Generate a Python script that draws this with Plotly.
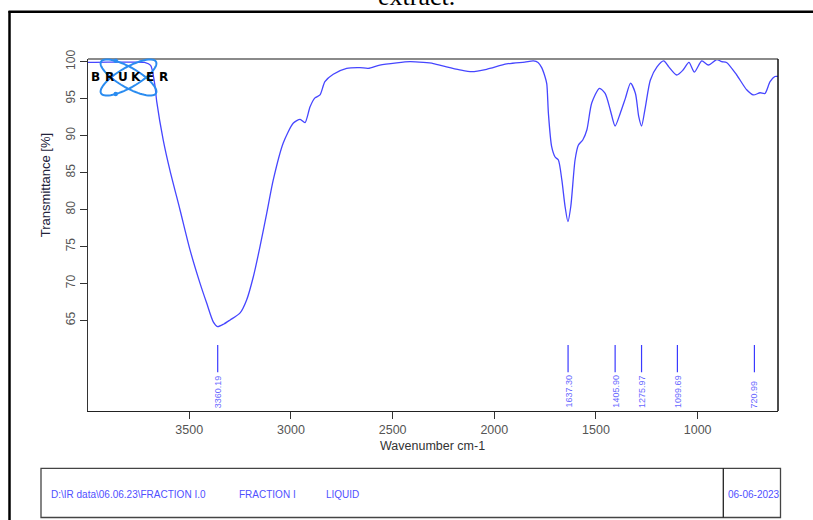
import numpy as np
import plotly.graph_objects as go

# ---------------- data ----------------
wavenumber = [3998, 3900, 3800, 3720, 3690, 3670, 3660, 3628, 3595, 3546, 3497, 3447,
              3414, 3382, 3361, 3330, 3299, 3250, 3218, 3185, 3152, 3119, 3087, 3038,
              2988, 2955, 2931, 2906, 2882, 2857, 2833, 2792, 2726, 2661, 2620, 2563,
              2480, 2415, 2349, 2300, 2235, 2170, 2111, 2038, 1939, 1850, 1808, 1785,
              1767, 1751, 1742, 1734, 1718, 1701, 1685, 1668, 1652, 1638, 1624, 1603,
              1587, 1565, 1545, 1521, 1483, 1455, 1430, 1406, 1381, 1356, 1330, 1306,
              1290, 1276, 1257, 1233, 1200, 1167, 1142, 1103, 1071, 1043, 1016, 980,
              947, 906, 882, 858, 808, 759, 726, 693, 669, 644, 620, 604]
transmittance = [99.9, 99.95, 99.95, 99.9, 99.5, 97.0, 94.6, 89.4, 85.3, 80.0, 74.6, 70.0,
                 67.3, 64.8, 64.15, 64.5, 65.05, 66.0, 67.75, 70.9, 75.0, 79.5, 84.0, 89.0,
                 91.7, 92.2, 91.75, 93.9, 95.1, 95.5, 97.3, 98.3, 99.1, 99.2, 99.1, 99.55,
                 99.85, 100.0, 99.9, 99.75, 99.3, 98.9, 98.65, 98.97, 99.7, 99.95, 100.1, 99.9,
                 99.2, 98.0, 97.0, 93.0, 88.5, 87.1, 86.7, 84.0, 80.4, 78.35, 80.4, 86.7,
                 88.7, 89.4, 90.75, 94.4, 96.4, 95.7, 93.5, 91.3, 93.0, 95.0, 97.1, 95.7,
                 92.6, 91.3, 93.9, 97.5, 99.3, 100.1, 99.3, 98.2, 98.9, 99.9, 98.6, 100.1,
                 99.55, 100.3, 100.0, 99.9, 98.2, 96.2, 95.5, 95.8, 95.7, 97.3, 98.0, 98.0]

peak_positions = [3360.19, 1637.30, 1405.90, 1275.97, 1099.69, 720.99]
peak_labels = ["3360.19", "1637.30", "1405.90", "1275.97", "1099.69", "720.99"]

x_ticks = [3500, 3000, 2500, 2000, 1500, 1000]
y_ticks = [65, 70, 75, 80, 85, 90, 95, 100]

info_texts = ["D:\\IR data\\06.06.23\\FRACTION I.0", "FRACTION I", "LIQUID"]
date_text = "06-06-2023"
title_text = "extract."

# ---------------- geometry helpers ----------------
W, H = 813, 520
ML, MR, MT, MB = 88, 35, 59, 109
PW, PH = W - ML - MR, H - MT - MB


def px(xp):
    return (xp - ML) / PW


def py(yp):
    return (H - MB - yp) / PH


LINE_BLUE = "#4646ff"
FONT = "Liberation Sans, Arial, sans-serif"

fig = go.Figure()

fig.add_trace(go.Scatter(
    x=wavenumber, y=transmittance, mode="lines",
    line=dict(color=LINE_BLUE, width=1.3, shape="spline", smoothing=0.7),
    hoverinfo="skip", showlegend=False))

# peak marker lines
pk_x, pk_y = [], []
for p in peak_positions:
    pk_x += [p, p, None]
    pk_y += [61.66, 57.97, None]
fig.add_trace(go.Scatter(x=pk_x, y=pk_y, mode="lines",
                         line=dict(color="#3a3aff", width=1.2),
                         hoverinfo="skip", showlegend=False))

annotations = []
for p, lab in zip(peak_positions, peak_labels):
    annotations.append(dict(x=p, y=53.0, xref="x", yref="y", text=lab,
                            textangle=-90, showarrow=False, xanchor="center",
                            yanchor="bottom", borderpad=0,
                            font=dict(family=FONT, size=9, color="#6a6aff")))

# axis titles
annotations.append(dict(x=px(432.5), y=py(446), xref="paper", yref="paper",
                        text="Wavenumber cm-1", showarrow=False,
                        xanchor="center", yanchor="middle",
                        font=dict(family=FONT, size=12.5, color="#333333")))
annotations.append(dict(x=px(45.7), y=py(185.5), xref="paper", yref="paper",
                        text="Transmittance [%]", showarrow=False, textangle=-90,
                        xanchor="center", yanchor="middle",
                        font=dict(family=FONT, size=13, color="#22223a")))

# title fragment (cut at top, as in the reference)
annotations.append(dict(x=px(416), y=py(12.5), xref="paper", yref="paper",
                        text=title_text, showarrow=False, xanchor="center",
                        yanchor="bottom",
                        font=dict(family="Liberation Serif, Times New Roman, serif",
                                  size=26, color="#000000")))

# info box text
info_x = [49, 236.7, 324]
for t, xx in zip(info_texts, info_x):
    annotations.append(dict(x=px(xx), y=py(494), xref="paper", yref="paper",
                            text=t, showarrow=False, xanchor="left", yanchor="middle",
                            font=dict(family=FONT, size=10, color="#5050ff")))
annotations.append(dict(x=px(754), y=py(494), xref="paper", yref="paper",
                        text=date_text, showarrow=False, xanchor="center",
                        yanchor="middle",
                        font=dict(family=FONT, size=10, color="#5050ff")))

# BRUKER logo letters
for i, ch in enumerate("BRUKER"):
    annotations.append(dict(x=px(95.5 + i * 13.6), y=py(77.3), xref="paper", yref="paper",
                            text="<b>" + ch + "</b>", showarrow=False,
                            xanchor="center", yanchor="middle",
                            font=dict(family="DejaVu Sans, sans-serif", size=12,
                                      color="#000000")))

shapes = []
# outer page frame (left and top)
shapes.append(dict(type="line", xref="paper", yref="paper",
                   x0=px(9.5), x1=px(9.5), y0=py(11), y1=py(521),
                   line=dict(color="black", width=2.5)))
shapes.append(dict(type="line", xref="paper", yref="paper",
                   x0=px(8.5), x1=px(815), y0=py(11.8), y1=py(11.8),
                   line=dict(color="black", width=2.5)))
# plot box top (gray) and right (black)
shapes.append(dict(type="line", xref="paper", yref="paper",
                   x0=0, x1=1, y0=1, y1=1, line=dict(color="#8a8a8a", width=1.8)))
shapes.append(dict(type="line", xref="paper", yref="paper",
                   x0=1, x1=1, y0=0, y1=1, line=dict(color="#111111", width=1.5)))
# info box
shapes.append(dict(type="rect", xref="paper", yref="paper",
                   x0=px(41), x1=px(780.5), y0=py(468.3), y1=py(517.5),
                   line=dict(color="#444444", width=1.3)))
shapes.append(dict(type="line", xref="paper", yref="paper",
                   x0=px(723.3), x1=px(723.3), y0=py(468.3), y1=py(517.5),
                   line=dict(color="#222222", width=1.3)))

# logo ellipses
cx, cy, a, b = 128.5, 77.5, 31.7, 10.0
t = np.linspace(0, 2 * np.pi, 73)
for ang in (np.deg2rad(30), np.deg2rad(-30)):
    ex = cx + a * np.cos(t) * np.cos(ang) - b * np.sin(t) * np.sin(ang)
    ey = cy + a * np.cos(t) * np.sin(ang) + b * np.sin(t) * np.cos(ang)
    path = "M " + " L ".join(f"{px(u):.5f},{py(v):.5f}" for u, v in zip(ex, ey)) + " Z"
    shapes.append(dict(type="path", xref="paper", yref="paper", path=path,
                       line=dict(color="#2a8cf0", width=2)))
for (dx, dy) in [(115.7, 60.7), (115.7, 94.0)]:
    shapes.append(dict(type="circle", xref="paper", yref="paper",
                       x0=px(dx - 2.2), x1=px(dx + 2.2), y0=py(dy + 2.2), y1=py(dy - 2.2),
                       fillcolor="#2a8cf0", line=dict(color="#2a8cf0", width=0)))

fig.update_layout(
    width=W, height=H,
    margin=dict(l=ML, r=MR, t=MT, b=MB, pad=0),
    paper_bgcolor="white", plot_bgcolor="white",
    showlegend=False,
    annotations=annotations,
    shapes=shapes,
    xaxis=dict(range=[3998, 605], tickvals=x_ticks, ticktext=[str(v) for v in x_ticks],
               showgrid=False, zeroline=False, showline=True, linecolor="#222222",
               linewidth=1.3, ticks="outside", ticklen=7, tickcolor="#333333",
               tickwidth=1, tickfont=dict(family=FONT, size=12.5, color="#555555")),
    yaxis=dict(range=[52.73, 100.365], tickvals=y_ticks, ticktext=[str(v) for v in y_ticks],
               showgrid=False, zeroline=False, showline=True, linecolor="#333333",
               linewidth=1.3, ticks="outside", ticklen=7, tickcolor="#333333",
               tickwidth=1, tickangle=-90,
               tickfont=dict(family=FONT, size=12, color="#555555")),
)

fig.write_html("out.html",
               config={"displayModeBar": False},
               post_script="document.body.style.margin='0px';"
                           "document.body.style.overflow='hidden';")
